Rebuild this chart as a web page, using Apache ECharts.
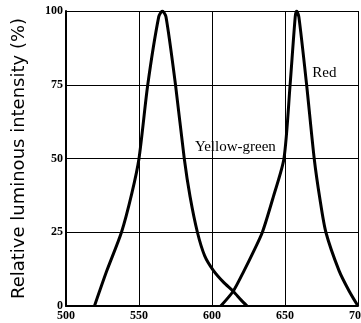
<!DOCTYPE html>
<html>
<head>
<meta charset="utf-8">
<script src="https://cdn.jsdelivr.net/npm/echarts@6/dist/echarts.min.js"></script>
<style>
  html, body { margin: 0; padding: 0; background: #fff; }
  #chart { width: 361px; height: 323px; }
</style>
</head>
<body>
<div id="chart"></div>
<script>
// wavelength (nm) vs relative intensity (%)
var xTicks = [500, 550, 600, 650, 700];
var yTicks = [0, 25, 50, 75, 100];

var yellowGreen = [
  [519.5, 0], [528, 12], [538, 25], [545, 38], [550, 50], [556, 75],
  [563.5, 98], [566, 100], [568.5, 98], [575, 75],
  [581, 50], [585, 37], [590, 25], [595, 17], [601, 12], [608, 8],
  [614.5, 5], [620, 2], [624, 0]
];

var red = [
  [606, 0], [614.5, 5], [622, 12], [628, 18], [634.5, 25], [642, 37], [649.3, 50],
  [653.5, 75], [657, 98], [658, 100], [659.5, 98],
  [664.8, 75], [670, 50], [674, 36], [678, 25], [687, 12],
  [694, 5], [700, 0]
];

var labels = [
  { text: 'Yellow-green', x: 616, y: 54 },
  { text: 'Red', x: 677, y: 79 }
];

var chart = echarts.init(document.getElementById('chart'));

var serif = 'Liberation Serif';

function lineSeries(name, data, label) {
  return {
    name: name,
    type: 'line',
    data: data,
    smooth: 0.25,
    showSymbol: false,
    lineStyle: { color: '#000', width: 3 },
    markPoint: {
      symbol: 'rect', symbolSize: 0,
      data: [{ coord: [label.x, label.y] }],
      label: {
        show: true, formatter: label.text, color: '#000',
        fontFamily: serif, fontSize: 15, position: 'inside'
      }
    }
  };
}

chart.setOption({
  animation: false,
  grid: { left: 66, right: 3, top: 11, bottom: 17, outerBoundsMode: 'none', containLabel: false },
  xAxis: {
    type: 'value',
    min: xTicks[0],
    max: xTicks[xTicks.length - 1],
    interval: 50,
    axisLine: { show: true, lineStyle: { color: '#000', width: 2 } },
    axisTick: { show: false },
    splitLine: { show: true, lineStyle: { color: '#000', width: 1 } },
    axisLabel: {
      color: '#000', fontFamily: serif, fontSize: 12, fontWeight: 'bold', margin: 4
    }
  },
  yAxis: {
    type: 'value',
    min: yTicks[0],
    max: yTicks[yTicks.length - 1],
    interval: 25,
    name: 'Relative luminous intensity (%)',
    nameLocation: 'middle',
    nameGap: 38,
    nameTextStyle: { color: '#000', fontFamily: 'DejaVu Sans', fontSize: 18 },
    axisLine: { show: true, lineStyle: { color: '#000', width: 2 } },
    axisTick: { show: false },
    splitLine: { show: true, lineStyle: { color: '#000', width: 1 } },
    axisLabel: {
      color: '#000', fontFamily: serif, fontSize: 12, fontWeight: 'bold', margin: 3
    }
  },
  series: [
    lineSeries('Yellow-green', yellowGreen, labels[0]),
    lineSeries('Red', red, labels[1])
  ]
});
</script>
</body>
</html>
